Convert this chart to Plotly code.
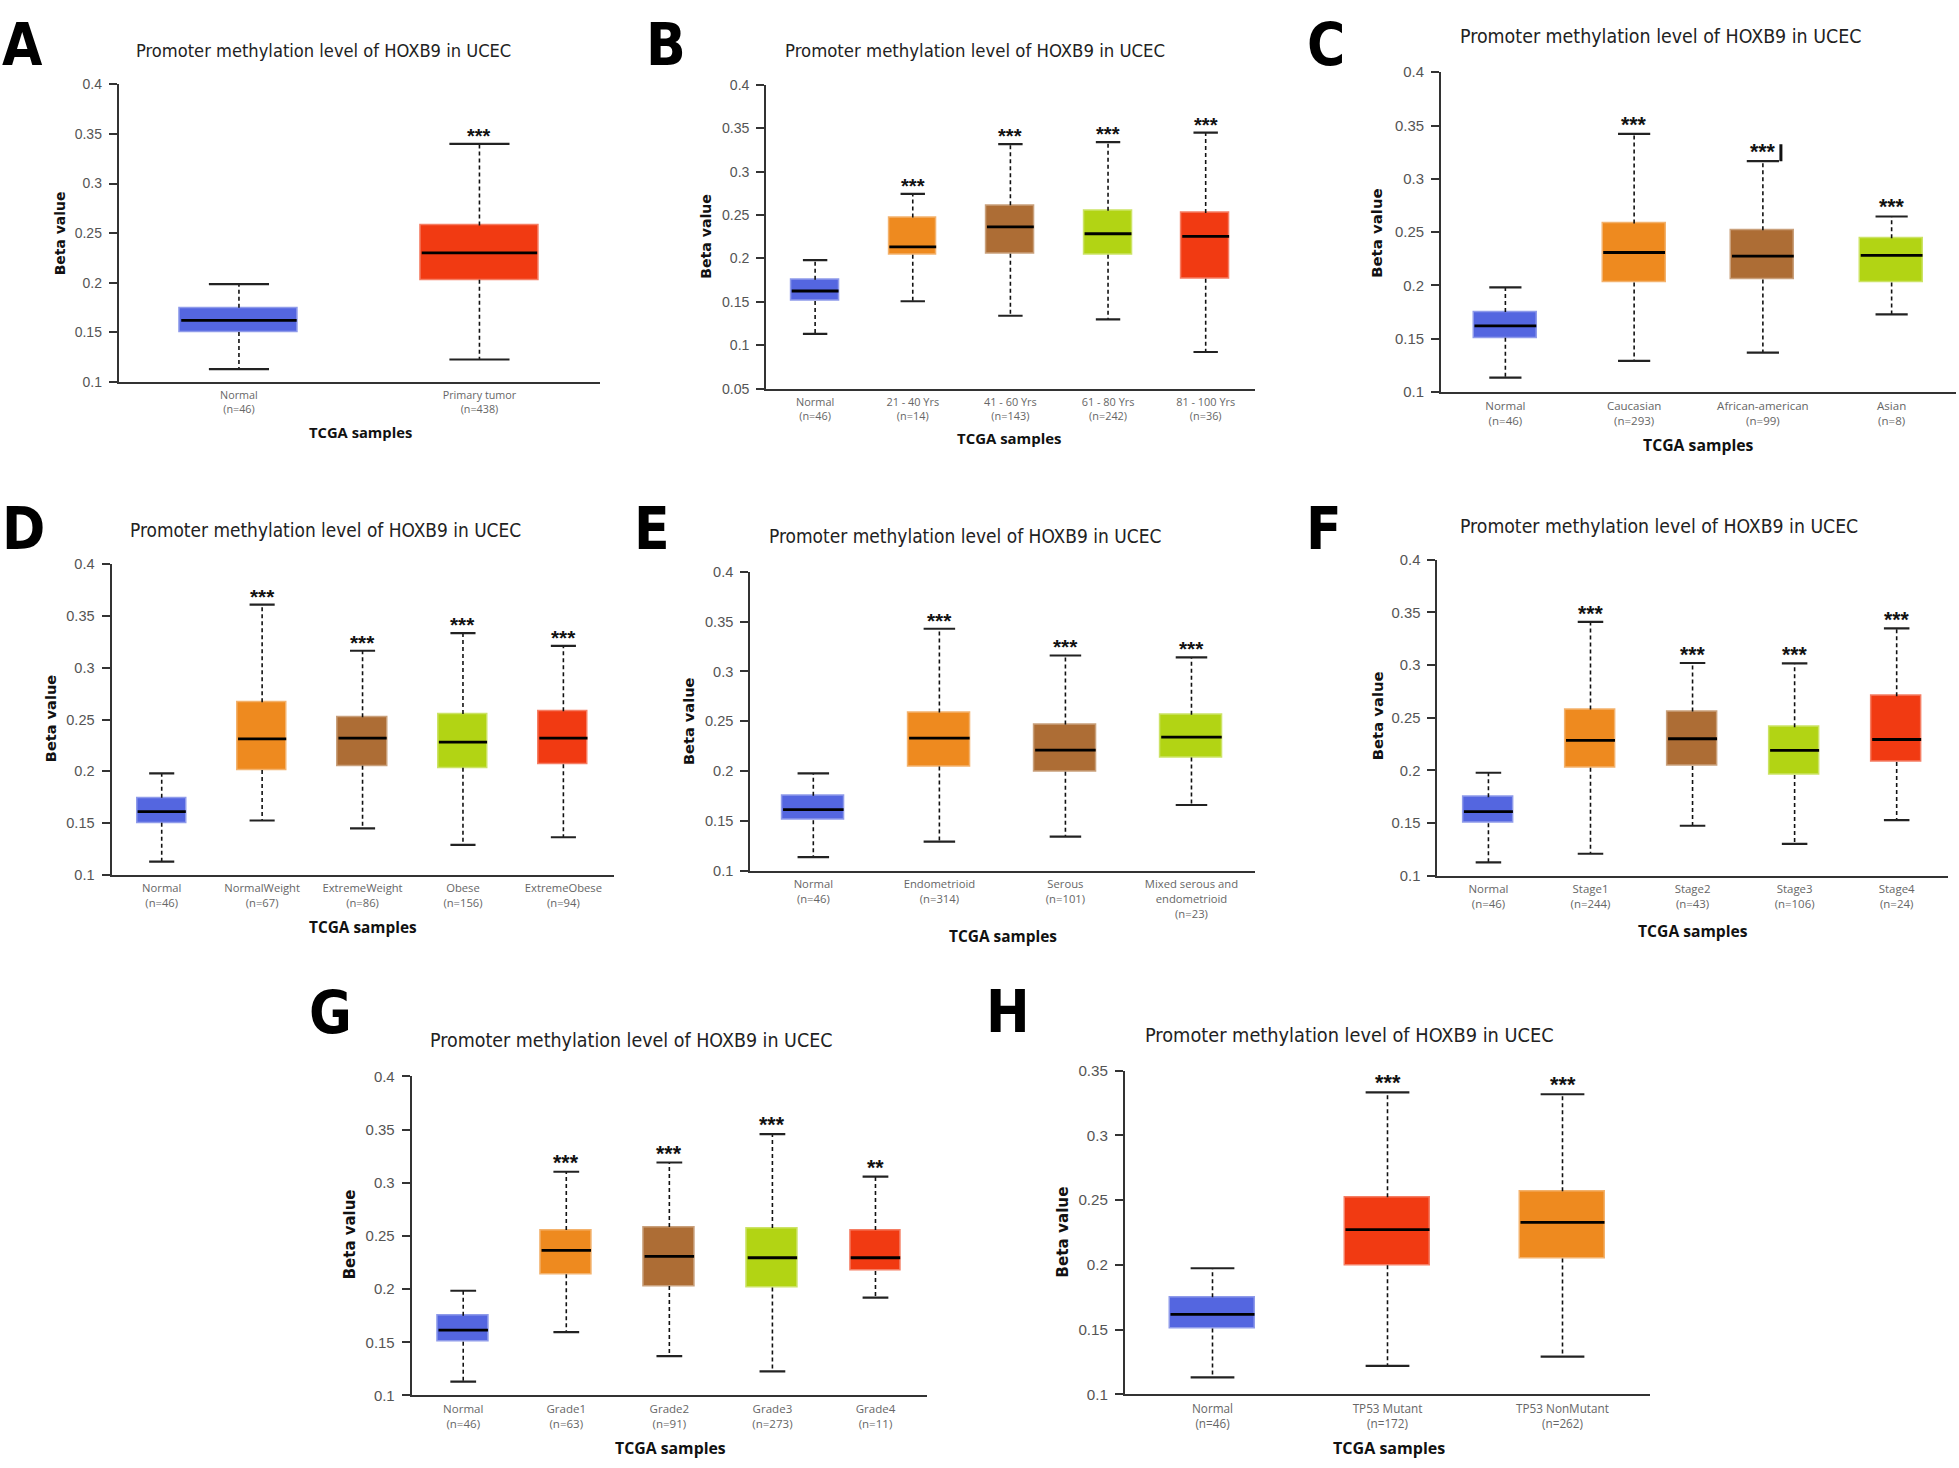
import plotly.graph_objects as go

W, H = 1959, 1468

# ------------------------- data -------------------------
A_cats = ["Normal", "Primary tumor"]
A_n = [46, 438]
A_low = [0.1129, 0.1226]
A_q1 = [0.1504, 0.2029]
A_med = [0.1621, 0.2301]
A_q3 = [0.1747, 0.2576]
A_up = [0.1986, 0.3400]
A_sig = ["", "***"]

B_cats = ["Normal", "21 - 40 Yrs", "41 - 60 Yrs", "61 - 80 Yrs", "81 - 100 Yrs"]
B_n = [46, 14, 143, 242, 36]
B_low = [0.1130, 0.1506, 0.1339, 0.1297, 0.0921]
B_q1 = [0.1510, 0.2041, 0.2053, 0.2041, 0.1764]
B_med = [0.1624, 0.2132, 0.2364, 0.2284, 0.2254]
B_q3 = [0.1753, 0.2470, 0.2611, 0.2550, 0.2524]
B_up = [0.1980, 0.2744, 0.3317, 0.3340, 0.3450]
B_sig = ["", "***", "***", "***", "***"]

C_cats = ["Normal", "Caucasian", "African-american", "Asian"]
C_n = [46, 293, 99, 8]
C_low = [0.1133, 0.1291, 0.1368, 0.1727]
C_q1 = [0.1507, 0.2027, 0.2055, 0.2027]
C_med = [0.1619, 0.2308, 0.2274, 0.2280]
C_q3 = [0.1749, 0.2580, 0.2516, 0.2441]
C_up = [0.1980, 0.3422, 0.3165, 0.2646]
C_sig = ["", "***", "***", "***"]

D_cats = ["Normal", "NormalWeight", "ExtremeWeight", "Obese", "ExtremeObese"]
D_n = [46, 67, 86, 156, 94]
D_low = [0.1127, 0.1525, 0.1449, 0.1290, 0.1363]
D_q1 = [0.1503, 0.2012, 0.2053, 0.2034, 0.2069]
D_med = [0.1611, 0.2314, 0.2320, 0.2282, 0.2320]
D_q3 = [0.1745, 0.2667, 0.2521, 0.2553, 0.2581]
D_up = [0.1980, 0.3609, 0.3164, 0.3335, 0.3211]
D_sig = ["", "***", "***", "***", "***"]

E_cats = ["Normal", "Endometrioid", "Serous", "Mixed serous and\nendometrioid"]
E_n = [46, 314, 101, 23]
E_low = [0.1139, 0.1294, 0.1344, 0.1661]
E_q1 = [0.1509, 0.2047, 0.1994, 0.2136]
E_med = [0.1614, 0.2331, 0.2212, 0.2341]
E_q3 = [0.1753, 0.2589, 0.2467, 0.2566]
E_up = [0.1978, 0.3428, 0.3160, 0.3141]
E_sig = ["", "***", "***", "***"]

F_cats = ["Normal", "Stage1", "Stage2", "Stage3", "Stage4"]
F_n = [46, 244, 43, 106, 24]
F_low = [0.1125, 0.1207, 0.1473, 0.1301, 0.1526]
F_q1 = [0.1498, 0.2024, 0.2040, 0.1955, 0.2080]
F_med = [0.1608, 0.2284, 0.2300, 0.2190, 0.2293]
F_q3 = [0.1745, 0.2578, 0.2560, 0.2409, 0.2704]
F_up = [0.1977, 0.3411, 0.3020, 0.3017, 0.3349]
F_sig = ["", "***", "***", "***", "***"]

G_cats = ["Normal", "Grade1", "Grade2", "Grade3", "Grade4"]
G_n = [46, 63, 91, 273, 11]
G_low = [0.1130, 0.1595, 0.1369, 0.1226, 0.1920]
G_q1 = [0.1505, 0.2140, 0.2029, 0.2016, 0.2171]
G_med = [0.1614, 0.2364, 0.2308, 0.2295, 0.2295]
G_q3 = [0.1750, 0.2556, 0.2584, 0.2574, 0.2556]
G_up = [0.1985, 0.3104, 0.3191, 0.3457, 0.3058]
G_sig = ["", "***", "***", "***", "**"]

H_cats = ["Normal", "TP53 Mutant", "TP53 NonMutant"]
H_n = [46, 172, 262]
H_low = [0.1132, 0.1221, 0.1292]
H_q1 = [0.1509, 0.1997, 0.2050]
H_med = [0.1618, 0.2272, 0.2328]
H_q3 = [0.1750, 0.2523, 0.2569]
H_up = [0.1974, 0.3332, 0.3317]
H_sig = ["", "***", "***"]

TITLE = "Promoter methylation level of HOXB9 in UCEC"

# ------------------------- style -------------------------
BLUE, ORANGE, BROWN, GREEN, RED = "#5466e0", "#ee8a1f", "#ad6d35", "#b2d414", "#f13a12"
NARROW = "Liberation Sans Narrow, DejaVu Sans Condensed, Arial Narrow, sans-serif"
ARIAL = "Liberation Sans, Arial, sans-serif"
OPEN = "Open Sans, Noto Sans, sans-serif"
VERD = "DejaVu Sans, Verdana, sans-serif"


def lighten(hexc, f=0.3):
    r, g, b = int(hexc[1:3], 16), int(hexc[3:5], 16), int(hexc[5:7], 16)
    r, g, b = [int(c + (255 - c) * f) for c in (r, g, b)]
    return f"#{r:02x}{g:02x}{b:02x}"


# layout (window pixels); letter: (x, y, anchor)
panels = [
    dict(L="A", cats=A_cats, n=A_n, low=A_low, q1=A_q1, med=A_med, q3=A_q3, up=A_up, sig=A_sig,
         colors=[BLUE, RED], x0=118.7, x1=599.7, yt=76.2, yb=377.3, yr=(0.1, 0.4),
         title=(323.6, 42.3), tw=374, letter=(22, 0, "top"), beta=(60, 227), tcga=(360, 428)),
    dict(L="B", cats=B_cats, n=B_n, low=B_low, q1=B_q1, med=B_med, q3=B_q3, up=B_up, sig=B_sig,
         colors=[BLUE, ORANGE, BROWN, GREEN, RED], x0=766.3, x1=1254.5, yt=76.7, yb=384.0, yr=(0.05, 0.4),
         title=(974.6, 42.3), tw=379, letter=(666, 0, "top"), beta=(706.5, 230), tcga=(1010, 434)),
    dict(L="C", cats=C_cats, n=C_n, low=C_low, q1=C_q1, med=C_med, q3=C_q3, up=C_up, sig=C_sig,
         colors=[BLUE, ORANGE, BROWN, GREEN], x0=1441.0, x1=1956.0, yt=64.0, yb=387.3, yr=(0.1, 0.4),
         title=(1660, 28.3), tw=400, letter=(1326, 0, "top"), beta=(1377.5, 227), tcga=(1698, 441)),
    dict(L="D", cats=D_cats, n=D_n, low=D_low, q1=D_q1, med=D_med, q3=D_q3, up=D_up, sig=D_sig,
         colors=[BLUE, ORANGE, BROWN, GREEN, RED], x0=111.5, x1=613.6, yt=561.7, yb=876.0, yr=(0.1, 0.4),
         title=(325.5, 526.7), tw=390, letter=(23, 526, "middle"), beta=(50.5, 718), tcga=(363, 929)),
    dict(L="E", cats=E_cats, n=E_n, low=E_low, q1=E_q1, med=E_med, q3=E_q3, up=E_up, sig=E_sig,
         colors=[BLUE, ORANGE, BROWN, GREEN], x0=750.3, x1=1254.5, yt=569.3, yb=872.0, yr=(0.1, 0.4),
         title=(965, 533.3), tw=391, letter=(651.5, 526, "middle"), beta=(688.4, 720), tcga=(1003, 938)),
    dict(L="F", cats=F_cats, n=F_n, low=F_low, q1=F_q1, med=F_med, q3=F_q3, up=F_up, sig=F_sig,
         colors=[BLUE, ORANGE, BROWN, GREEN, RED], x0=1437.4, x1=1947.7, yt=557.3, yb=876.7, yr=(0.1, 0.4),
         title=(1659, 523.3), tw=397, letter=(1323.5, 526, "middle"), beta=(1377.5, 715), tcga=(1693, 932.7)),
    dict(L="G", cats=G_cats, n=G_n, low=G_low, q1=G_q1, med=G_med, q3=G_q3, up=G_up, sig=G_sig,
         colors=[BLUE, ORANGE, BROWN, GREEN, RED], x0=411.7, x1=927.0, yt=1080.0, yb=1402.7, yr=(0.1, 0.4),
         title=(631.4, 1043.3), tw=401, letter=(330.5, 1016, "middle"), beta=(349.7, 1240), tcga=(670, 1456)),
    dict(L="H", cats=H_cats, n=H_n, low=H_low, q1=H_q1, med=H_med, q3=H_q3, up=H_up, sig=H_sig,
         colors=[BLUE, RED, ORANGE], x0=1125.0, x1=1650.0, yt=1074.0, yb=1401.7, yr=(0.1, 0.35),
         title=(1349.9, 1038.3), tw=407, letter=(1008, 1015, "middle"), beta=(1063, 1238), tcga=(1389, 1456)),
]

BOX_W = 0.49
CAP_W = 0.25

fig = go.Figure()
annotations = []
shapes = []


def px(x):
    return x / W


def py(y):
    return 1 - y / H


for k, p in enumerate(panels, start=1):
    xr = "x" if k == 1 else f"x{k}"
    yr_ = "y" if k == 1 else f"y{k}"
    xa = "xaxis" if k == 1 else f"xaxis{k}"
    ya = "yaxis" if k == 1 else f"yaxis{k}"
    nc = len(p["cats"])
    idx = list(range(nc))
    fs = p["tw"] / 375.0

    # box bodies
    fig.add_trace(go.Bar(
        x=idx, y=[b - a for a, b in zip(p["q1"], p["q3"])], base=p["q1"], width=BOX_W,
        marker=dict(color=p["colors"], line=dict(color=[lighten(c, 0.35) for c in p["colors"]], width=1.5)),
        xaxis=xr, yaxis=yr_, showlegend=False, hoverinfo="skip"))

    # dashed whiskers
    wx, wy = [], []
    for i in idx:
        wx += [i, i, None, i, i, None]
        wy += [p["q3"][i], p["up"][i], None, p["q1"][i], p["low"][i], None]
    fig.add_trace(go.Scatter(x=wx, y=wy, mode="lines", line=dict(color="#111", width=1.6, dash="4px,3px"),
                             xaxis=xr, yaxis=yr_, showlegend=False, hoverinfo="skip"))

    # caps
    cx, cy = [], []
    for i in idx:
        cx += [i - CAP_W / 2, i + CAP_W / 2, None, i - CAP_W / 2, i + CAP_W / 2, None]
        cy += [p["up"][i], p["up"][i], None, p["low"][i], p["low"][i], None]
    fig.add_trace(go.Scatter(x=cx, y=cy, mode="lines", line=dict(color="#222", width=2.2),
                             xaxis=xr, yaxis=yr_, showlegend=False, hoverinfo="skip"))

    # medians
    mx, my = [], []
    for i in idx:
        mx += [i - BOX_W / 2 + 0.005, i + BOX_W / 2 - 0.005, None]
        my += [p["med"][i], p["med"][i], None]
    fig.add_trace(go.Scatter(x=mx, y=my, mode="lines", line=dict(color="#000", width=2.8),
                             xaxis=xr, yaxis=yr_, showlegend=False, hoverinfo="skip"))

    # significance marks
    for i in idx:
        if p["sig"][i]:
            annotations.append(dict(x=i, y=p["up"][i], xref=xr, yref=yr_, text=f"<b>{p['sig'][i]}</b>",
                                    showarrow=False, yanchor="bottom", yshift=-5,
                                    font=dict(family=ARIAL, size=20 * fs, color="#111")))

    x0, x1 = p["x0"], p["x1"]
    lo, hi = p["yr"]
    ticks = []
    t = lo
    while t <= hi + 1e-9:
        ticks.append(round(t, 2))
        t += 0.05
    fig.update_layout(**{
        xa: dict(domain=[px(x0), min(px(x1), 1.0)], range=[-0.5, nc - 0.5], anchor=yr_,
                 tickvals=idx,
                 ticktext=[f"{c.replace(chr(10), '<br>')}<br>(n={n})" for c, n in zip(p["cats"], p["n"])],
                 tickfont=dict(family=OPEN, size=10.8 * fs, color="#666"),
                 showline=True, linecolor="#333", linewidth=2, ticks="", showgrid=False,
                 zeroline=False, ticklabelstandoff=2, fixedrange=True),
        ya: dict(domain=[py(p["yb"]), py(p["yt"])], range=[lo - 1e-6, hi + 1e-6], anchor=xr,
                 tickvals=ticks, ticktext=[f"{v:g}" for v in ticks],
                 tickfont=dict(family=ARIAL, size=14 * fs, color="#555"),
                 showline=True, linecolor="#333", linewidth=2, ticks="outside", ticklen=8,
                 tickwidth=1.5, tickcolor="#333", showgrid=False, zeroline=False,
                 ticklabelstandoff=4, fixedrange=True),
    })

    # titles and labels
    annotations.append(dict(x=px(p["title"][0]), y=py(p["title"][1]), xref="paper", yref="paper",
                            text=TITLE, showarrow=False, xanchor="center", yanchor="middle",
                            font=dict(family=NARROW, size=18.2 * fs, color="#222")))
    lx, ly, lanchor = p["letter"]
    annotations.append(dict(x=px(lx), y=py(ly), xref="paper", yref="paper",
                            text=f"<b>{p['L']}</b>", showarrow=False, xanchor="center", yanchor=lanchor,
                            font=dict(family=NARROW, size=58, color="#000")))
    annotations.append(dict(x=px(p["beta"][0]), y=py(p["beta"][1]), xref="paper", yref="paper",
                            text="<b>Beta value</b>", showarrow=False, textangle=-90,
                            xanchor="center", yanchor="middle",
                            font=dict(family=VERD, size=14 * fs, color="#111")))
    annotations.append(dict(x=px(p["tcga"][0]), y=py(p["tcga"][1]), xref="paper", yref="paper",
                            text="<b>TCGA samples</b>", showarrow=False, xanchor="center", yanchor="middle",
                            font=dict(family=OPEN, size=14.8 * fs, color="#111")))

    if p["L"] == "C":
        shapes.append(dict(type="line", xref=xr, yref=yr_, x0=2.14, x1=2.14,
                           y0=p["up"][2], y1=p["up"][2] + 0.016, line=dict(color="#111", width=3)))

fig.update_layout(width=W, height=H, autosize=False, margin=dict(l=0, r=0, t=0, b=0),
                  paper_bgcolor="white", plot_bgcolor="white", showlegend=False,
                  annotations=annotations, shapes=shapes, bargap=0)

# pin the figure to the window's top-left corner (no page margin / overflow)
PIN = ("var gd=document.getElementById('{plot_id}');"
       "var de=document.documentElement, b=document.body;"
       "de.style.margin='0';de.style.padding='0';de.style.overflow='hidden';"
       "b.style.margin='0';b.style.padding='0';b.style.overflow='hidden';"
       "gd.style.position='fixed';gd.style.left='0px';gd.style.top='0px';")

fig.write_html("out.html", post_script=PIN, config={"displayModeBar": False})
